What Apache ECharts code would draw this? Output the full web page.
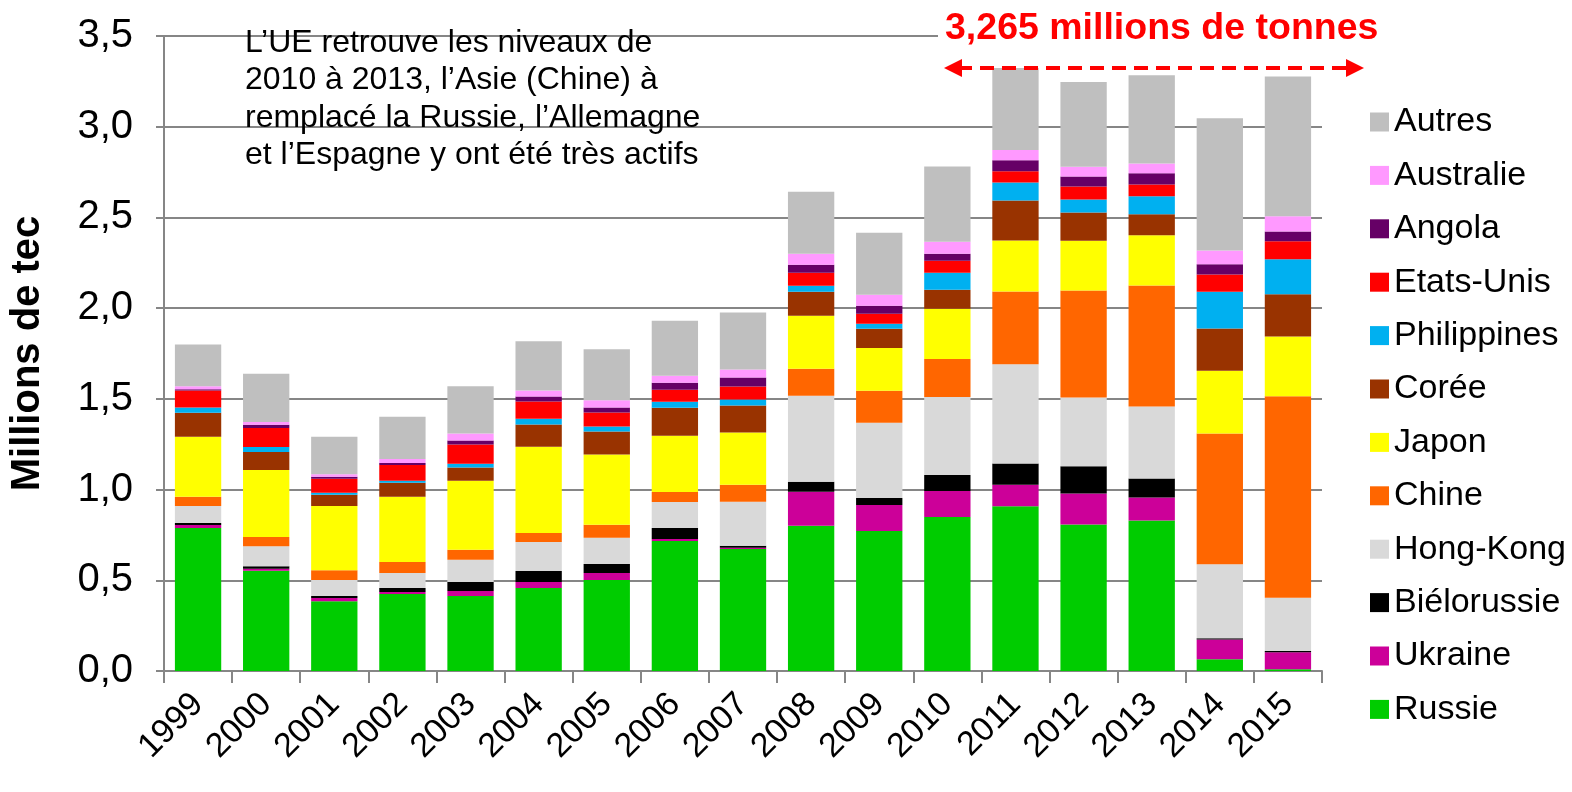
<!DOCTYPE html>
<html>
<head>
<meta charset="utf-8">
<title>Importations de charbon</title>
<script src="https://cdn.jsdelivr.net/npm/echarts@6/dist/echarts.min.js"></script>
<style>
  html, body { margin: 0; padding: 0; background: #fff; }
  #chart { width: 1572px; height: 792px; }
</style>
</head>
<body>
<div id="chart"></div>
<script>
// années
var years = ['1999', '2000', '2001', '2002', '2003', '2004', '2005', '2006', '2007',
             '2008', '2009', '2010', '2011', '2012', '2013', '2014', '2015'];

// valeurs (millions de tec), du bas vers le haut
var russie      = [0.788, 0.552, 0.385, 0.424, 0.413, 0.457, 0.501, 0.716, 0.673, 0.800, 0.772, 0.849, 0.908, 0.808, 0.830, 0.065, 0.009];
var ukraine     = [0.017, 0.011, 0.017, 0.011, 0.028, 0.033, 0.039, 0.011, 0.006, 0.188, 0.143, 0.143, 0.118, 0.170, 0.126, 0.109, 0.094];
var bielorussie = [0.011, 0.015, 0.011, 0.022, 0.050, 0.061, 0.050, 0.061, 0.011, 0.055, 0.039, 0.088, 0.118, 0.150, 0.105, 0.007, 0.007];
var hongKong    = [0.094, 0.110, 0.088, 0.083, 0.122, 0.160, 0.144, 0.144, 0.243, 0.474, 0.414, 0.430, 0.547, 0.379, 0.397, 0.407, 0.294];
var chine       = [0.050, 0.050, 0.055, 0.061, 0.055, 0.050, 0.072, 0.055, 0.094, 0.149, 0.176, 0.210, 0.401, 0.590, 0.667, 0.721, 1.111];
var japon       = [0.331, 0.370, 0.354, 0.359, 0.381, 0.475, 0.387, 0.309, 0.287, 0.292, 0.237, 0.276, 0.281, 0.275, 0.277, 0.346, 0.329];
var coree       = [0.133, 0.099, 0.061, 0.077, 0.072, 0.122, 0.127, 0.155, 0.149, 0.132, 0.105, 0.105, 0.220, 0.155, 0.115, 0.233, 0.233];
var philippines = [0.028, 0.028, 0.011, 0.011, 0.022, 0.033, 0.028, 0.033, 0.033, 0.033, 0.028, 0.094, 0.100, 0.072, 0.100, 0.203, 0.192];
var etatsUnis   = [0.094, 0.105, 0.077, 0.088, 0.105, 0.094, 0.077, 0.066, 0.072, 0.072, 0.055, 0.066, 0.061, 0.072, 0.065, 0.094, 0.100];
var angola      = [0.007, 0.017, 0.011, 0.011, 0.022, 0.028, 0.028, 0.039, 0.050, 0.044, 0.044, 0.039, 0.061, 0.054, 0.061, 0.057, 0.054];
var australie   = [0.017, 0.015, 0.015, 0.022, 0.039, 0.033, 0.039, 0.039, 0.044, 0.061, 0.061, 0.066, 0.057, 0.054, 0.054, 0.076, 0.083];
var autres      = [0.230, 0.267, 0.206, 0.232, 0.260, 0.271, 0.282, 0.302, 0.314, 0.342, 0.342, 0.415, 0.451, 0.468, 0.486, 0.728, 0.771];

var names = ['Russie', 'Ukraine', 'Biélorussie', 'Hong-Kong', 'Chine', 'Japon',
             'Corée', 'Philippines', 'Etats-Unis', 'Angola', 'Australie', 'Autres'];
var values = [russie, ukraine, bielorussie, hongKong, chine, japon,
              coree, philippines, etatsUnis, angola, australie, autres];
var colors = ['#00CC00', '#CC0099', '#000000', '#D9D9D9', '#FF6600', '#FFFF00',
              '#993300', '#00B0F0', '#FF0000', '#660066', '#FF99FF', '#BFBFBF'];

var font = 'Liberation Sans, Arial, sans-serif';
var gridColor = '#868686';

var series = names.map(function (n, i) {
    return {
        name: n,
        type: 'bar',
        stack: 'total',
        barCategoryGap: '32%',
        itemStyle: { color: colors[i] },
        data: values[i]
    };
});

var option = {
    animation: false,
    backgroundColor: '#fff',
    textStyle: { fontFamily: font },
    grid: { left: 160, right: 250, top: 36, bottom: 121 },
    legend: {
        orient: 'vertical',
        left: 1365,
        top: 100,
        icon: 'rect',
        itemWidth: 19,
        itemHeight: 19,
        itemGap: 19.4,
        data: names.slice().reverse(),
        textStyle: { fontFamily: font, fontSize: 34, lineHeight: 34, color: '#000' }
    },
    xAxis: {
        type: 'category',
        data: years,
        axisLine: { lineStyle: { color: gridColor, width: 2 } },
        axisTick: { show: true, length: 12, lineStyle: { color: gridColor, width: 2 } },
        axisLabel: { rotate: 45, interval: 0, fontSize: 34, color: '#000', margin: 28, fontFamily: font }
    },
    yAxis: {
        type: 'value',
        min: 0,
        max: 3.5,
        interval: 0.5,
        name: 'Millions de tec',
        nameLocation: 'middle',
        nameRotate: 90,
        nameGap: 116,
        nameTextStyle: { fontSize: 40, fontWeight: 'bold', color: '#000', fontFamily: font, padding: [0, 0, 0, 0] },
        axisLine: { show: true, lineStyle: { color: gridColor, width: 2 } },
        axisTick: { show: true, length: 8, lineStyle: { color: gridColor, width: 2 } },
        splitLine: { lineStyle: { color: gridColor, width: 2 } },
        axisLabel: {
            fontSize: 40,
            color: '#000',
            margin: 31,
            fontFamily: font,
            formatter: function (v) { return v.toFixed(1).replace('.', ','); }
        }
    },
    graphic: [
        {
            type: 'text',
            left: 245,
            top: 24,
            z: 100,
            style: {
                text: 'L’UE retrouve les niveaux de\n2010 à 2013, l’Asie (Chine) à\nremplacé la Russie, l’Allemagne\net l’Espagne y ont été très actifs',
                font: '32px ' + font,
                lineHeight: 37.5,
                fill: '#000'
            }
        },
        {
            type: 'rect',
            z: 99,
            shape: { x: 938, y: 0, width: 460, height: 52 },
            style: { fill: '#fff' }
        },
        {
            type: 'text',
            left: 945,
            top: 10,
            z: 100,
            style: {
                text: '3,265 millions de tonnes',
                font: 'bold 37.5px ' + font,
                fill: '#FF0000'
            }
        },
        {
            type: 'line',
            z: 100,
            shape: { x1: 958, y1: 68, x2: 1350, y2: 68 },
            style: { stroke: '#FF0000', lineWidth: 4, lineDash: [14, 8] }
        },
        {
            type: 'polygon',
            z: 100,
            shape: { points: [[944, 68], [962, 59], [962, 77]] },
            style: { fill: '#FF0000' }
        },
        {
            type: 'polygon',
            z: 100,
            shape: { points: [[1364, 68], [1346, 59], [1346, 77]] },
            style: { fill: '#FF0000' }
        }
    ],
    series: series
};

var chart = echarts.init(document.getElementById('chart'));
chart.setOption(option);
</script>
</body>
</html>
